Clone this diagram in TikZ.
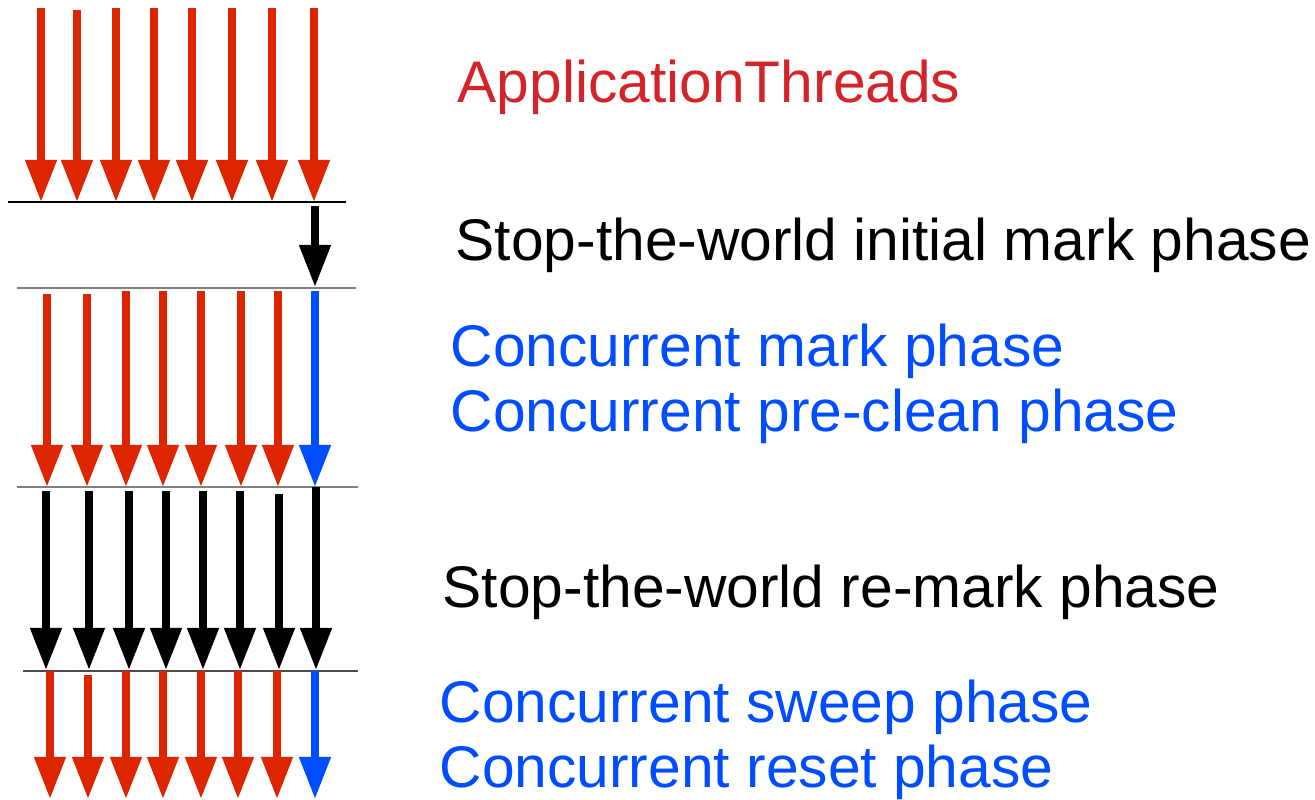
\documentclass[tikz,border=0pt]{standalone}
\usepackage{fontspec}
\setmainfont{Liberation Sans}
\usetikzlibrary{arrows.meta}

\definecolor{threadred}{RGB}{221,38,0}
\definecolor{gcblue}{RGB}{0,76,255}
\definecolor{textred}{RGB}{212,36,41}
\definecolor{linegray}{RGB}{128,128,128}

\begin{document}
\begin{tikzpicture}[x=0.01cm, y=-0.01cm,
  thread/.style={-{Triangle[length=4.2mm,width=3mm]}, line width=0.75mm},
  phaseline/.style={linegray, line width=0.25mm},
  phasetext/.style={anchor=base west, inner sep=0pt, font=\fontsize{16.7}{20}\selectfont}]
\useasboundingbox (0,0) rectangle (1315,799);

% Application threads
\foreach \x/\y in {41/8, 77/10, 116/8, 154/8, 192/8, 232/8, 272/8, 314/8}
  \draw[thread, threadred] (\x,\y) -- (\x,202);
\draw[black, line width=0.15mm] (8,202) -- (346,202);
\node[phasetext, textred] (appthreads) at (457,102) {ApplicationThreads};

% Initial mark
\draw[thread, black] (315,206) -- (315,287);
\draw[phaseline] (17,288) -- (356,288);
\node[phasetext] (initmark) at (455,260) {Stop-the-world initial mark phase};

% Concurrent mark / pre-clean
\foreach \x/\y in {47/294, 87/294, 126/291, 163/291, 201/291, 241/291, 278/291}
  \draw[thread, threadred] (\x,\y) -- (\x,487);
\draw[thread, gcblue] (315,291) -- (315,487);
\draw[phaseline] (17,487) -- (358,487);
\node[phasetext, gcblue] (concmark) at (450,366) {Concurrent mark phase};
\node[phasetext, gcblue] (preclean) at (450,431) {Concurrent pre-clean phase};

% Re-mark
\foreach \x/\y in {46/491, 89/491, 129/491, 166/491, 203/491, 240/491, 279/494, 316/487}
  \draw[thread, black] (\x,\y) -- (\x,670);
\draw[phaseline, black!70] (23,671) -- (358,671);
\node[phasetext] (remark) at (442,607) {Stop-the-world re-mark phase};

% Concurrent sweep / reset
\foreach \x/\y in {50/671, 88/675, 126/671, 163/671, 201/671, 238/671, 277/671}
  \draw[thread, threadred] (\x,\y) -- (\x,799);
\draw[thread, gcblue] (315,671) -- (315,799);
\node[phasetext, gcblue] (sweep) at (439,722) {Concurrent sweep phase};
\node[phasetext, gcblue] (reset) at (439,787) {Concurrent reset phase};

\end{tikzpicture}
\end{document}
